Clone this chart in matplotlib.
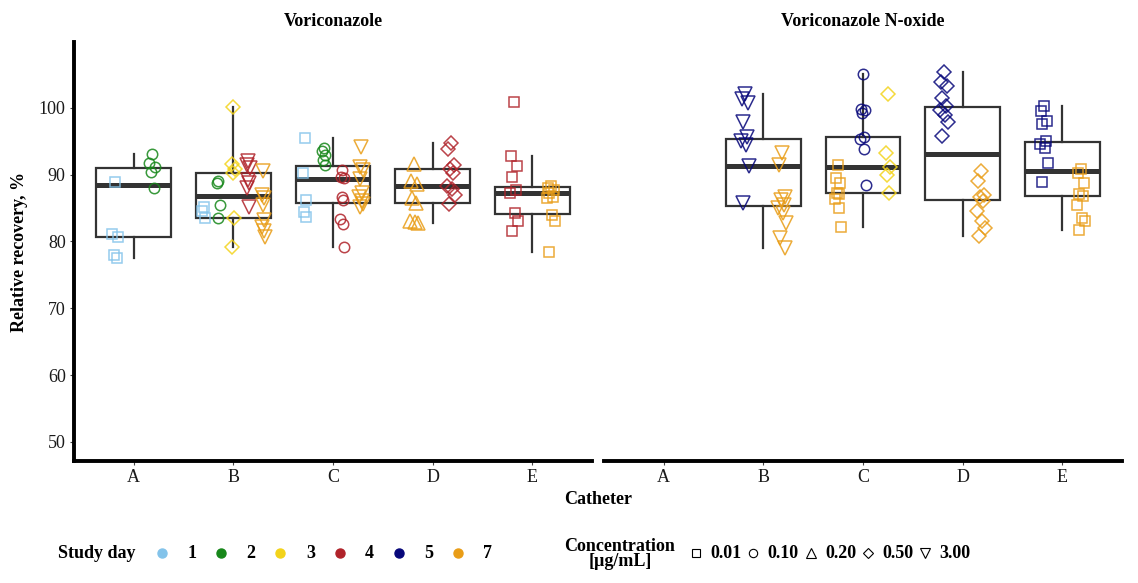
import numpy as np
import matplotlib.pyplot as plt

plt.rcParams['font.family'] = ['Liberation Serif', 'DejaVu Serif']

catheters = ['A', 'B', 'C', 'D', 'E']
study_days = [1, 2, 3, 4, 5, 7]
day_colors = ['#83c3ea', '#17871a', '#f3d31a', '#b0232a', '#07077a', '#e99d17']
conc_levels = ['0.01', '0.10', '0.20', '0.50', '3.00']
conc_markers = ['s', 'o', '^', 'D', 'v']
conc_sizes = [7.5, 7.5, 9.5, 7.2, 9.5]

# relative recovery (%) keyed by (study day, concentration) for each catheter
vori_A = {(1, '0.01'): [88.9, 81.1, 80.6, 78.0, 77.6],
          (2, '0.10'): [93.1, 91.7, 91.2, 90.4, 88.0]}
vori_B = {(1, '0.01'): [85.2, 84.5, 83.5],
          (2, '0.10'): [89.0, 88.7, 85.5, 83.5],
          (3, '0.50'): [100.1, 91.6, 90.9, 90.2, 83.5, 79.2],
          (4, '3.00'): [92.0, 91.5, 91.0, 89.2, 88.7, 88.0, 85.2],
          (7, '3.00'): [90.5, 87.0, 86.5, 85.5, 83.2, 82.2, 81.5, 80.7]}
vori_C = {(1, '0.01'): [95.5, 90.2, 86.2, 84.4, 83.6],
          (2, '0.10'): [94.0, 93.5, 92.9, 92.2, 91.5],
          (4, '0.10'): [90.7, 89.7, 89.5, 86.7, 86.2, 83.3, 82.6, 79.2],
          (7, '3.00'): [94.1, 91.2, 90.7, 89.4, 87.2, 86.7, 86.0, 85.6, 85.2]}
vori_D = {(7, '0.20'): [91.6, 89.1, 88.6, 86.5, 85.8, 83.1, 82.9, 82.8],
          (4, '0.50'): [94.7, 93.8, 91.4, 90.8, 90.2, 88.3, 87.8, 86.9, 85.6]}
vori_E = {(4, '0.01'): [100.8, 92.8, 91.3, 89.7, 87.7, 87.2, 84.2, 83.0, 81.5],
          (7, '0.01'): [88.3, 88.0, 87.7, 87.2, 86.7, 86.5, 84.0, 83.0, 78.5]}

nox_A = {}
nox_B = {(5, '3.00'): [102.0, 101.3, 100.7, 97.9, 95.6, 95.0, 94.5, 91.3, 85.7],
         (7, '3.00'): [93.3, 91.5, 86.7, 86.2, 85.5, 85.0, 84.2, 82.7, 80.5, 79.0]}
nox_C = {(7, '0.01'): [91.5, 89.5, 88.8, 87.2, 87.1, 86.3, 85.0, 82.1],
         (5, '0.10'): [105.1, 99.8, 99.6, 99.3, 95.7, 95.4, 93.8, 88.5],
         (3, '0.50'): [102.0, 93.3, 91.2, 90.0, 87.2]}
nox_D = {(5, '0.50'): [105.4, 103.9, 103.3, 101.5, 100.2, 99.7, 99.0, 97.9, 95.8],
         (7, '0.50'): [90.5, 89.1, 87.0, 86.6, 86.0, 84.6, 83.0, 82.0, 80.8]}
nox_E = {(5, '0.01'): [100.2, 99.5, 98.0, 97.6, 95.0, 94.6, 94.0, 91.7, 88.9],
         (7, '0.01'): [90.8, 90.3, 88.7, 87.1, 86.8, 85.4, 83.5, 83.1, 81.7]}

panels = [('Voriconazole', [vori_A, vori_B, vori_C, vori_D, vori_E]),
          ('Voriconazole N-oxide', [nox_A, nox_B, nox_C, nox_D, nox_E])]

W, H = 1138, 583
fig = plt.figure(figsize=(W / 100, H / 100), dpi=100)


def px_axes(x0, x1, y0, y1):
    return fig.add_axes([x0 / W, 1 - y1 / H, (x1 - x0) / W, (y1 - y0) / H])


jitter = [0.0, -0.6, 0.6, -0.3, 0.4, -0.8, 0.2, 0.8, -0.4, 0.5]
box_col = '#333333'

axes = [px_axes(74, 592, 42, 461), px_axes(604, 1122, 42, 461)]
for ax, (title, groups) in zip(axes, panels):
    for i, grp in enumerate(groups):
        pos = i + 1
        if not grp:
            continue
        allv = np.concatenate([v for v in grp.values()])
        ax.boxplot([allv], positions=[pos], widths=0.75, showfliers=False,
                   showcaps=False, patch_artist=True,
                   boxprops=dict(facecolor='white', edgecolor=box_col, linewidth=1.6),
                   medianprops=dict(color=box_col, linewidth=3.6, solid_capstyle='butt'),
                   whiskerprops=dict(color=box_col, linewidth=1.6), zorder=2)
        keys = sorted(grp.keys(), key=lambda k: (conc_levels.index(k[1]), k[0]))
        n = len(keys)
        for j, key in enumerate(keys):
            day, conc = key
            vals = grp[key]
            xc = pos - 0.375 + 0.75 * (j + 0.5) / n
            amp = 0.1 / n
            xs = [xc + amp * jitter[k % len(jitter)] for k in range(len(vals))]
            ci = conc_levels.index(conc)
            ax.plot(xs, vals, linestyle='none', marker=conc_markers[ci],
                    markersize=conc_sizes[ci], markerfacecolor='none',
                    markeredgecolor=day_colors[study_days.index(day)],
                    markeredgewidth=1.1, alpha=0.85, zorder=3)

    ax.set_xlim(0.4, 5.6)
    ax.set_ylim(47.15, 109.85)
    ax.set_xticks(range(1, 6))
    ax.set_xticklabels(catheters)
    for s in ['top', 'right']:
        ax.spines[s].set_visible(False)
    ax.spines['bottom'].set_linewidth(2.8)
    ax.spines['left'].set_linewidth(2.8)
    ax.tick_params(axis='both', length=3, width=0.8, color='#444444',
                   labelsize=13, labelcolor='#1a1a1a', pad=3)
    ax.text(0.5, 1 + 21 / 419, title, transform=ax.transAxes, ha='center',
            va='center', fontsize=13, fontweight='bold')

axes[0].set_yticks([50, 60, 70, 80, 90, 100])
axes[1].set_yticks([])
axes[1].spines['left'].set_visible(False)

fig.text(20 / W, 1 - 252 / H, 'Relative recovery, %', rotation=90, ha='center',
         va='center', fontsize=13, fontweight='bold')
fig.text(598 / W, 1 - 500 / H, 'Catheter', ha='center', va='center',
         fontsize=13, fontweight='bold')

# legends along the bottom, drawn in pixel coordinates
lax = fig.add_axes([0, 0, 1, 1])
lax.set_xlim(0, W)
lax.set_ylim(H, 0)
lax.axis('off')

ly = 553
lax.text(58, ly, 'Study day', ha='left', va='center', fontsize=13, fontweight='bold')
for k, (day, col) in enumerate(zip(study_days, day_colors)):
    mx = 162 + k * 59.2
    lax.plot([mx], [ly], marker='o', markersize=6.5, color=col, linestyle='none')
    lax.text(mx + 30, ly, str(day), ha='center', va='center', fontsize=13,
             fontweight='bold')

lax.text(620, ly + 1, 'Concentration\n[µg/mL]', ha='center', va='center',
         fontsize=13, fontweight='bold', linespacing=0.9)
for k, (conc, m) in enumerate(zip(conc_levels, conc_markers)):
    mx = 696 + k * 57.3
    lax.plot([mx], [ly], marker=m, markersize=6 if m in 'so' else 7.5 if m in '^v' else 5.5,
             markerfacecolor='none', markeredgecolor='black', markeredgewidth=0.8,
             linestyle='none')
    lax.text(mx + 30, ly, conc, ha='center', va='center', fontsize=13,
             fontweight='bold')

fig.savefig('out.png', dpi=100)
